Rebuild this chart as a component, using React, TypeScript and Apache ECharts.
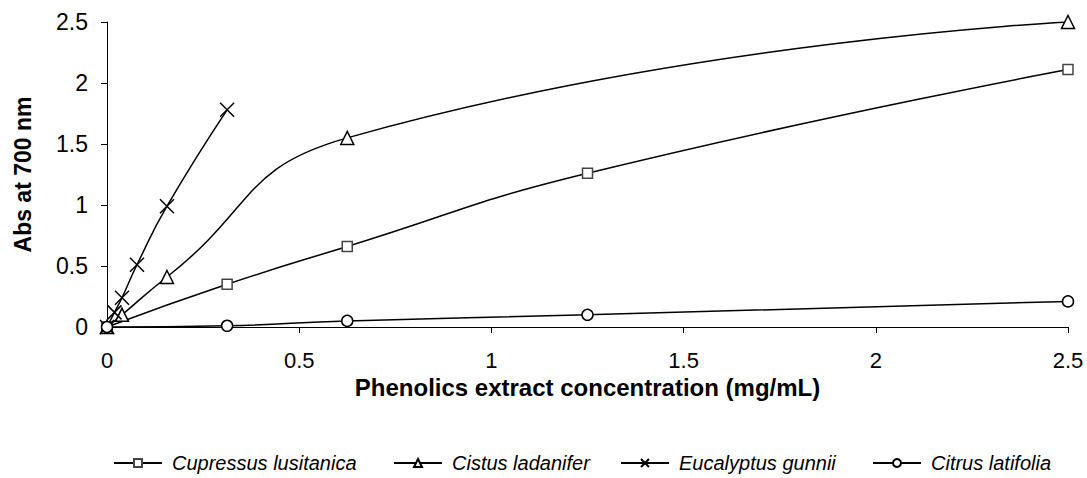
import React, { useEffect, useRef } from "react";
import * as echarts from "echarts";

const seriesNames = [
  "Cupressus lusitanica",
  "Cistus ladanifer",
  "Eucalyptus gunnii",
  "Citrus latifolia",
];

const cupressusX = [0, 0.3125, 0.625, 1.25, 2.5];
const cupressusY = [0, 0.35, 0.66, 1.26, 2.11];

const cistusX = [0, 0.039, 0.156, 0.625, 2.5];
const cistusY = [0, 0.1, 0.41, 1.55, 2.5];

const eucalyptusX = [0, 0.0195, 0.039, 0.078, 0.156, 0.3125];
const eucalyptusY = [0, 0.12, 0.24, 0.51, 0.99, 1.78];

const citrusX = [0, 0.3125, 0.625, 1.25, 2.5];
const citrusY = [0, 0.01, 0.05, 0.1, 0.21];

const xTicks = ["0", "0.5", "1", "1.5", "2", "2.5"];

const FONT = "'Liberation Sans', Arial, sans-serif";

const pair = (xs: number[], ys: number[]) => xs.map((x, i) => [x, ys[i]]);

export default function App() {
  const ref = useRef<HTMLDivElement>(null);
  useEffect(() => {
    if (!ref.current) return;
    const chart = echarts.init(ref.current, null, { renderer: "svg" });
    const lineStyle = { color: "#000", width: 1.5 };
    const symbols = [
      { symbol: "rect", size: 10, itemStyle: { color: "#fff", borderColor: "#444", borderWidth: 1.5 } },
      { symbol: "triangle", size: 13, itemStyle: { color: "#fff", borderColor: "#000", borderWidth: 1.5 } },
      { symbol: "path://M0 0L10 10M10 0L0 10", size: 14, itemStyle: { color: "transparent", borderColor: "#000", borderWidth: 1.5 } },
      { symbol: "circle", size: 11, itemStyle: { color: "#fff", borderColor: "#000", borderWidth: 1.5 } },
    ];
    const datas = [
      pair(cupressusX, cupressusY),
      pair(cistusX, cistusY),
      pair(eucalyptusX, eucalyptusY),
      pair(citrusX, citrusY),
    ];
    const legendLefts = [113, 393, 620, 872];
    chart.setOption({
      animation: false,
      backgroundColor: "#fff",
      grid: { left: 107, right: 19, top: 22, bottom: 151, containLabel: false },
      xAxis: {
        type: "value",
        min: 0,
        max: 2.5,
        interval: 0.5,
        name: "Phenolics extract concentration (mg/mL)",
        nameLocation: "middle",
        nameGap: 48,
        nameMoveOverlap: false,
        nameTextStyle: { fontFamily: FONT, fontSize: 24, fontWeight: "bold", color: "#000" },
        axisLine: { lineStyle: { color: "#000", width: 1 } },
        axisTick: { show: true, length: 6, lineStyle: { color: "#000" } },
        axisLabel: {
          fontFamily: FONT,
          fontSize: 22,
          color: "#000",
          margin: 22,
          formatter: (v: number) => xTicks[Math.round(v / 0.5)] ?? String(v),
        },
        splitLine: { show: false },
      },
      yAxis: {
        type: "value",
        min: 0,
        max: 2.5,
        interval: 0.5,
        name: "Abs at 700 nm",
        nameLocation: "middle",
        nameGap: 73,
        nameMoveOverlap: false,
        nameTextStyle: { fontFamily: FONT, fontSize: 23, fontWeight: "bold", color: "#000" },
        axisLine: { show: true, lineStyle: { color: "#000", width: 1 } },
        axisTick: { show: true, length: 6, lineStyle: { color: "#000" } },
        axisLabel: { fontFamily: FONT, fontSize: 23, color: "#000", margin: 19 },
        splitLine: { show: false },
      },
      legend: seriesNames.map((n, i) => ({
        data: [n],
        left: legendLefts[i],
        top: 453,
        itemWidth: 48,
        itemHeight: 10,
        padding: 0,
        textStyle: { fontFamily: FONT, fontSize: 20, fontStyle: "italic", color: "#000", padding: [0, 0, 0, 5] },
      })),
      series: seriesNames.map((n, i) => ({
        name: n,
        type: "line",
        data: datas[i],
        smooth: 0.5,
        symbol: symbols[i].symbol,
        symbolSize: symbols[i].size,
        showAllSymbol: true,
        lineStyle,
        itemStyle: symbols[i].itemStyle,
        z: 2 + i,
      })),
    });
    return () => chart.dispose();
  }, []);
  return (
    <div
      ref={ref}
      style={{ position: "fixed", left: 0, top: 0, width: 1087, height: 478 }}
    />
  );
}
